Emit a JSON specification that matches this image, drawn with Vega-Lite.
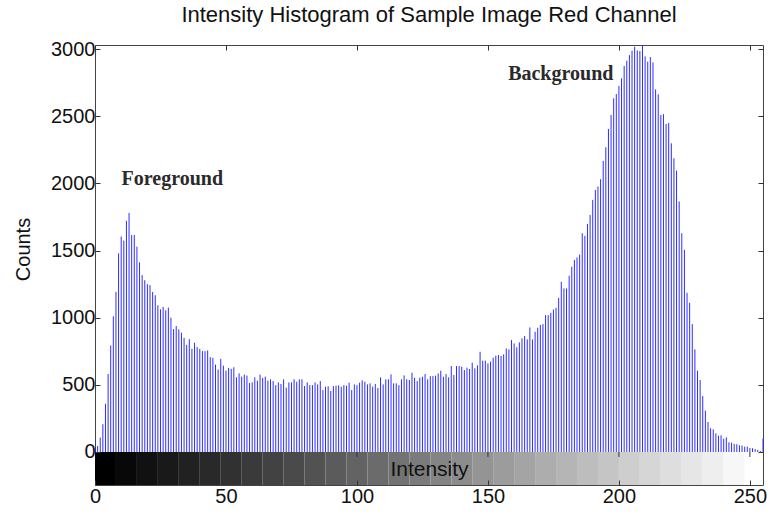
{
  "$schema": "https://vega.github.io/schema/vega-lite/v6.json",
  "width": 668,
  "height": 440,
  "autosize": {"type": "none"},
  "padding": {"left": 95, "top": 45, "right": 10, "bottom": 33},
  "background": "white",
  "title": {
    "text": "Intensity Histogram of Sample Image Red Channel",
    "font": "Liberation Sans",
    "fontSize": 22,
    "fontWeight": "normal",
    "color": "#111111",
    "anchor": "middle",
    "baseline": "alphabetic",
    "offset": -5
  },
  "config": {
    "view": {"stroke": "#444444", "strokeWidth": 1},
    "axis": {
      "grid": false,
      "domain": false,
      "tickColor": "#333333",
      "tickSize": -5,
      "labelFont": "Liberation Sans",
      "labelFontSize": 20,
      "labelColor": "#111111",
      "titleFont": "Liberation Sans",
      "titleFontSize": 20,
      "titleFontWeight": "normal",
      "titleColor": "#111111",
      "format": "d"
    }
  },
  "datasets": {
    "hist": [
      {"intensity":0,"count":30},{"intensity":1,"count":45},{"intensity":2,"count":107},{"intensity":3,"count":207},{"intensity":4,"count":359},{"intensity":5,"count":581},{"intensity":6,"count":793},{"intensity":7,"count":1010},{"intensity":8,"count":1192},{"intensity":9,"count":1479},
      {"intensity":10,"count":1604},{"intensity":11,"count":1574},{"intensity":12,"count":1721},{"intensity":13,"count":1780},{"intensity":14,"count":1616},{"intensity":15,"count":1616},{"intensity":16,"count":1529},{"intensity":17,"count":1412},{"intensity":18,"count":1317},{"intensity":19,"count":1279},
      {"intensity":20,"count":1249},{"intensity":21,"count":1242},{"intensity":22,"count":1192},{"intensity":23,"count":1167},{"intensity":24,"count":1092},{"intensity":25,"count":1062},{"intensity":26,"count":1080},{"intensity":27,"count":1055},{"intensity":28,"count":1075},{"intensity":29,"count":1000},
      {"intensity":30,"count":915},{"intensity":31,"count":938},{"intensity":32,"count":913},{"intensity":33,"count":888},{"intensity":34,"count":850},{"intensity":35,"count":798},{"intensity":36,"count":840},{"intensity":37,"count":768},{"intensity":38,"count":813},{"intensity":39,"count":781},
      {"intensity":40,"count":768},{"intensity":41,"count":751},{"intensity":42,"count":751},{"intensity":43,"count":756},{"intensity":44,"count":706},{"intensity":45,"count":701},{"intensity":46,"count":651},{"intensity":47,"count":614},{"intensity":48,"count":693},{"intensity":49,"count":643},
      {"intensity":50,"count":606},{"intensity":51,"count":626},{"intensity":52,"count":619},{"intensity":53,"count":631},{"intensity":54,"count":556},{"intensity":55,"count":586},{"intensity":56,"count":561},{"intensity":57,"count":576},{"intensity":58,"count":569},{"intensity":59,"count":514},
      {"intensity":60,"count":519},{"intensity":61,"count":556},{"intensity":62,"count":531},{"intensity":63,"count":576},{"intensity":64,"count":551},{"intensity":65,"count":561},{"intensity":66,"count":531},{"intensity":67,"count":541},{"intensity":68,"count":528},{"intensity":69,"count":498},
      {"intensity":70,"count":518},{"intensity":71,"count":506},{"intensity":72,"count":541},{"intensity":73,"count":479},{"intensity":74,"count":518},{"intensity":75,"count":518},{"intensity":76,"count":541},{"intensity":77,"count":523},{"intensity":78,"count":541},{"intensity":79,"count":541},
      {"intensity":80,"count":491},{"intensity":81,"count":518},{"intensity":82,"count":498},{"intensity":83,"count":498},{"intensity":84,"count":518},{"intensity":85,"count":503},{"intensity":86,"count":528},{"intensity":87,"count":461},{"intensity":88,"count":486},{"intensity":89,"count":489},
      {"intensity":90,"count":454},{"intensity":91,"count":491},{"intensity":92,"count":494},{"intensity":93,"count":496},{"intensity":94,"count":486},{"intensity":95,"count":498},{"intensity":96,"count":494},{"intensity":97,"count":516},{"intensity":98,"count":461},{"intensity":99,"count":503},
      {"intensity":100,"count":498},{"intensity":101,"count":516},{"intensity":102,"count":533},{"intensity":103,"count":523},{"intensity":104,"count":503},{"intensity":105,"count":511},{"intensity":106,"count":486},{"intensity":107,"count":506},{"intensity":108,"count":476},{"intensity":109,"count":556},
      {"intensity":110,"count":503},{"intensity":111,"count":541},{"intensity":112,"count":541},{"intensity":113,"count":578},{"intensity":114,"count":511},{"intensity":115,"count":511},{"intensity":116,"count":498},{"intensity":117,"count":541},{"intensity":118,"count":570},{"intensity":119,"count":541},
      {"intensity":120,"count":536},{"intensity":121,"count":590},{"intensity":122,"count":553},{"intensity":123,"count":528},{"intensity":124,"count":553},{"intensity":125,"count":560},{"intensity":126,"count":580},{"intensity":127,"count":541},{"intensity":128,"count":565},{"intensity":129,"count":565},
      {"intensity":130,"count":568},{"intensity":131,"count":585},{"intensity":132,"count":605},{"intensity":133,"count":560},{"intensity":134,"count":580},{"intensity":135,"count":556},{"intensity":136,"count":640},{"intensity":137,"count":573},{"intensity":138,"count":640},{"intensity":139,"count":640},
      {"intensity":140,"count":635},{"intensity":141,"count":610},{"intensity":142,"count":628},{"intensity":143,"count":618},{"intensity":144,"count":665},{"intensity":145,"count":622},{"intensity":146,"count":645},{"intensity":147,"count":746},{"intensity":148,"count":680},{"intensity":149,"count":680},
      {"intensity":150,"count":660},{"intensity":151,"count":672},{"intensity":152,"count":702},{"intensity":153,"count":717},{"intensity":154,"count":722},{"intensity":155,"count":715},{"intensity":156,"count":727},{"intensity":157,"count":771},{"intensity":158,"count":764},{"intensity":159,"count":833},
      {"intensity":160,"count":808},{"intensity":161,"count":779},{"intensity":162,"count":816},{"intensity":163,"count":846},{"intensity":164,"count":863},{"intensity":165,"count":838},{"intensity":166,"count":927},{"intensity":167,"count":838},{"intensity":168,"count":895},{"intensity":169,"count":925},
      {"intensity":170,"count":945},{"intensity":171,"count":952},{"intensity":172,"count":1019},{"intensity":173,"count":1019},{"intensity":174,"count":1036},{"intensity":175,"count":1061},{"intensity":176,"count":1073},{"intensity":177,"count":1148},{"intensity":178,"count":1267},{"intensity":179,"count":1218},
      {"intensity":180,"count":1218},{"intensity":181,"count":1312},{"intensity":182,"count":1379},{"intensity":183,"count":1430},{"intensity":184,"count":1448},{"intensity":185,"count":1470},{"intensity":186,"count":1629},{"intensity":187,"count":1609},{"intensity":188,"count":1698},{"intensity":189,"count":1765},
      {"intensity":190,"count":1877},{"intensity":191,"count":1951},{"intensity":192,"count":1976},{"intensity":193,"count":2031},{"intensity":194,"count":2167},{"intensity":195,"count":2269},{"intensity":196,"count":2405},{"intensity":197,"count":2509},{"intensity":198,"count":2633},{"intensity":199,"count":2665},
      {"intensity":200,"count":2725},{"intensity":201,"count":2782},{"intensity":202,"count":2874},{"intensity":203,"count":2913},{"intensity":204,"count":2955},{"intensity":205,"count":2988},{"intensity":206,"count":3017},{"intensity":207,"count":2990},{"intensity":208,"count":2985},{"intensity":209,"count":3030},
      {"intensity":210,"count":2945},{"intensity":211,"count":2906},{"intensity":212,"count":2940},{"intensity":213,"count":2900},{"intensity":214,"count":2700},{"intensity":215,"count":2663},{"intensity":216,"count":2509},{"intensity":217,"count":2515},{"intensity":218,"count":2442},{"intensity":219,"count":2450},
      {"intensity":220,"count":2298},{"intensity":221,"count":2187},{"intensity":222,"count":2095},{"intensity":223,"count":1865},{"intensity":224,"count":1629},{"intensity":225,"count":1505},{"intensity":226,"count":1185},{"intensity":227,"count":1111},{"intensity":228,"count":952},{"intensity":229,"count":764},
      {"intensity":230,"count":605},{"intensity":231,"count":536},{"intensity":232,"count":417},{"intensity":233,"count":308},{"intensity":234,"count":223},{"intensity":235,"count":176},{"intensity":236,"count":169},{"intensity":237,"count":139},{"intensity":238,"count":122},{"intensity":239,"count":124},
      {"intensity":240,"count":99},{"intensity":241,"count":109},{"intensity":242,"count":72},{"intensity":243,"count":70},{"intensity":244,"count":60},{"intensity":245,"count":58},{"intensity":246,"count":50},{"intensity":247,"count":48},{"intensity":248,"count":40},{"intensity":249,"count":40},
      {"intensity":250,"count":30},{"intensity":251,"count":28},{"intensity":252,"count":22},{"intensity":253,"count":15},{"intensity":254,"count":7},{"intensity":255,"count":100}
    ],
    "grayBar": [
      {"lo":0,"hi":8,"level":0.0},{"lo":8,"hi":16,"level":0.032},{"lo":16,"hi":24,"level":0.065},{"lo":24,"hi":32,"level":0.097},
      {"lo":32,"hi":40,"level":0.129},{"lo":40,"hi":48,"level":0.161},{"lo":48,"hi":56,"level":0.194},{"lo":56,"hi":64,"level":0.226},
      {"lo":64,"hi":72,"level":0.258},{"lo":72,"hi":80,"level":0.29},{"lo":80,"hi":88,"level":0.323},{"lo":88,"hi":96,"level":0.355},
      {"lo":96,"hi":104,"level":0.387},{"lo":104,"hi":112,"level":0.419},{"lo":112,"hi":120,"level":0.452},{"lo":120,"hi":128,"level":0.484},
      {"lo":128,"hi":136,"level":0.516},{"lo":136,"hi":144,"level":0.548},{"lo":144,"hi":152,"level":0.581},{"lo":152,"hi":160,"level":0.613},
      {"lo":160,"hi":168,"level":0.645},{"lo":168,"hi":176,"level":0.677},{"lo":176,"hi":184,"level":0.71},{"lo":184,"hi":192,"level":0.742},
      {"lo":192,"hi":200,"level":0.774},{"lo":200,"hi":208,"level":0.806},{"lo":208,"hi":216,"level":0.839},{"lo":216,"hi":224,"level":0.871},
      {"lo":224,"hi":232,"level":0.903},{"lo":232,"hi":240,"level":0.935},{"lo":240,"hi":248,"level":0.968},{"lo":248,"hi":255,"level":1.0}
    ],
    "barTicks": [
      {"intensity":50},{"intensity":100},{"intensity":150},{"intensity":200},{"intensity":250}
    ],
    "notes": [
      {"label":"Foreground","intensity":29.5,"count":1985},
      {"label":"Background","intensity":177.8,"count":2770}
    ]
  },
  "layer": [
    {
      "data": {"name": "grayBar"},
      "mark": {"type": "rect"},
      "encoding": {
        "x": {
          "field": "lo",
          "type": "quantitative",
          "scale": {"domain": [0, 255], "nice": false, "zero": false},
          "axis": {"orient": "top", "zindex": 1, "values": [0, 50, 100, 150, 200, 250], "labels": false, "title": null}
        },
        "x2": {"field": "hi"},
        "y": {
          "datum": -245.7,
          "type": "quantitative",
          "scale": {"domain": [-245.7, 3030], "nice": false, "zero": false},
          "axis": {"orient": "right", "zindex": 1, "values": [0, 500, 1000, 1500, 2000, 2500, 3000], "labels": false, "title": null}
        },
        "y2": {"datum": 0},
        "color": {
          "field": "level",
          "type": "quantitative",
          "scale": {"domain": [0, 1], "range": ["#000000", "#ffffff"], "interpolate": "rgb"},
          "legend": null
        }
      }
    },
    {
      "data": {"name": "hist"},
      "mark": {"type": "rule", "color": "#2e2eff", "strokeWidth": 1},
      "encoding": {
        "x": {
          "field": "intensity",
          "type": "quantitative",
          "axis": {
            "orient": "bottom",
            "zindex": 1,
            "values": [0, 50, 100, 150, 200, 250],
            "labelPadding": 6,
            "labelFlush": false,
            "title": "Intensity",
            "titleFontSize": 21,
            "titleY": -16,
            "titleBaseline": "middle"
          }
        },
        "y": {
          "field": "count",
          "type": "quantitative",
          "axis": {
            "orient": "left",
            "zindex": 1,
            "values": [0, 500, 1000, 1500, 2000, 2500, 3000],
            "labelPadding": 5,
            "title": "Counts",
            "titleX": -72,
            "titleY": 204,
            "titleAlign": "center",
            "titleBaseline": "middle"
          }
        },
        "y2": {"datum": 0}
      }
    },
    {
      "data": {"name": "barTicks"},
      "mark": {"type": "rule", "color": "#333333", "strokeWidth": 1},
      "encoding": {
        "x": {"field": "intensity", "type": "quantitative", "axis": null},
        "y": {"datum": 0, "type": "quantitative", "axis": null},
        "y2": {"datum": -37}
      }
    },
    {
      "data": {"name": "notes"},
      "mark": {
        "type": "text",
        "font": "Liberation Serif",
        "fontWeight": "bold",
        "fontSize": 20,
        "color": "#2a2a2a",
        "align": "center",
        "baseline": "alphabetic"
      },
      "encoding": {
        "x": {"field": "intensity", "type": "quantitative", "axis": null},
        "y": {"field": "count", "type": "quantitative", "axis": null},
        "text": {"field": "label"}
      }
    }
  ]
}
